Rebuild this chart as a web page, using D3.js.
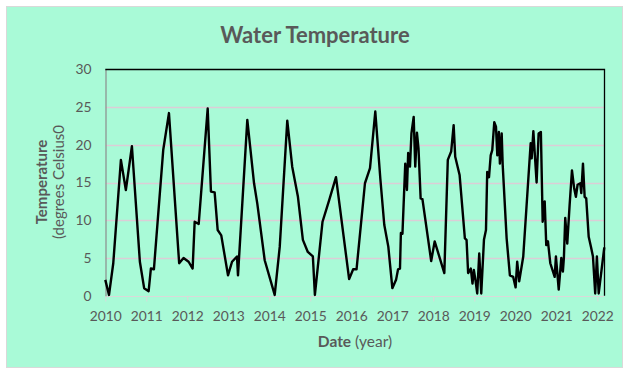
<!DOCTYPE html>
<html><head><meta charset="utf-8">
<script src="https://cdn.jsdelivr.net/npm/d3@7"></script>
<style>
html,body{margin:0;padding:0;background:#fff;}
svg{display:block;font-family:Lato,"Open Sans",sans-serif;}
</style></head>
<body>
<svg id="chart" width="630" height="381"></svg>
<script>
// ---- data ----
const dates = ["2010-01-01","2010-02-03","2010-03-13","2010-05-20","2010-07-03","2010-08-26","2010-11-05","2010-12-13",
"2011-01-22","2011-02-11","2011-03-10","2011-06-01","2011-07-22","2011-10-21","2011-11-29",
"2012-01-13","2012-02-18","2012-03-07","2012-04-12","2012-07-01","2012-07-30","2012-09-01","2012-09-28","2012-10-30","2012-12-29",
"2013-02-03","2013-03-19","2013-03-28","2013-06-19","2013-08-18","2013-09-16","2013-11-21",
"2014-02-18","2014-04-04","2014-06-10","2014-07-24","2014-09-13","2014-10-27","2014-12-10",
"2015-01-24","2015-02-11","2015-04-20","2015-06-19","2015-08-18","2015-12-13",
"2016-01-18","2016-02-17","2016-05-02","2016-06-16","2016-08-02","2016-09-16","2016-10-21","2016-11-26",
"2017-01-01","2017-02-03","2017-02-21","2017-03-10","2017-03-18","2017-04-01","2017-04-26","2017-05-11","2017-05-22","2017-06-07","2017-06-20","2017-07-10","2017-07-24","2017-08-08","2017-08-22","2017-09-10","2017-09-26","2017-12-13",
"2018-01-13","2018-04-09","2018-05-10","2018-06-09","2018-07-01","2018-07-15","2018-08-23","2018-10-09","2018-10-24","2018-11-07","2018-12-01","2018-12-16","2018-12-28",
"2019-01-13","2019-01-27","2019-02-14","2019-03-04","2019-03-28","2019-04-15","2019-04-26","2019-05-12","2019-05-27","2019-06-10","2019-06-28","2019-07-13","2019-07-25","2019-08-08","2019-08-17","2019-09-02","2019-09-11","2019-10-16","2019-11-14","2019-12-13",
"2020-01-04","2020-01-18","2020-02-05","2020-03-12","2020-05-17","2020-05-26","2020-06-10","2020-07-09","2020-07-27","2020-08-16","2020-09-01","2020-09-19","2020-10-03","2020-10-18","2020-11-08","2020-12-17","2020-12-28",
"2021-01-22","2021-02-14","2021-02-28","2021-03-09","2021-03-21","2021-04-08","2021-04-29","2021-05-20","2021-06-09","2021-06-24","2021-07-09","2021-08-02","2021-08-11","2021-08-26","2021-09-10","2021-09-24","2021-10-16","2021-11-05","2021-11-23","2021-12-13","2021-12-28",
"2022-01-13","2022-03-04"];
const temps = [2.1,0.1,4.3,18.0,14.0,19.8,4.5,1.0,
0.6,3.6,3.5,19.3,24.2,4.3,5.0,
4.5,3.6,9.8,9.5,24.8,13.8,13.7,8.7,8.0,2.7,
4.5,5.2,2.7,23.3,14.9,12.2,4.7,
0.1,6.5,23.2,17.1,13.1,7.4,5.8,
5.2,0.1,9.8,12.7,15.7,2.2,
3.5,3.5,14.9,16.9,24.4,15.5,9.4,6.5,
1.0,2.1,3.5,3.6,8.3,8.2,17.5,14.0,18.9,17.1,21.5,23.7,17.1,21.6,19.5,12.9,12.8,4.6,
7.2,3.0,18.0,19.1,22.6,18.4,16.0,7.6,7.4,3.0,3.6,1.6,3.4,
1.9,0.3,5.6,0.3,7.4,8.7,16.4,15.7,18.6,19.3,23.0,22.4,18.6,21.7,17.5,21.5,17.3,7.6,2.7,2.5,
1.1,4.5,1.9,5.2,20.2,18.2,21.8,15.0,21.5,21.7,9.8,12.5,6.7,7.2,4.3,2.5,5.2,
0.8,5.0,3.2,5.0,10.3,6.9,12.0,16.6,14.2,13.1,14.7,14.9,13.6,17.5,13.1,12.9,7.8,6.5,5.2,0.3,5.2,
0.3,6.4];
const yTicks = [0,5,10,15,20,25,30];
const xTickYears = [2010,2011,2012,2013,2014,2015,2016,2017,2018,2019,2020,2021,2022];
const titleText = "Water Temperature";
const yTitleBold = "Temperature";
const yTitleRest = "(degrees Celsius0";
const xTitleBold = "Date";
const xTitleRest = " (year)";

// ---- layout ----
const svg = d3.select("#chart");
const plot = {left:105.3, right:604.3, top:69.3, bottom:295.7};
const parse = d3.utcParse("%Y-%m-%d");
const data = dates.map((d,i)=>({date:parse(d), v:temps[i]}));
const FONT = "Lato, 'Open Sans', sans-serif";

svg.append("rect").attr("x",6.5).attr("y",6.5).attr("width",616).attr("height",361)
  .attr("fill","#a9fad7").attr("stroke","#d9d9d9").attr("stroke-width",1);

const x = d3.scaleUtc().domain([data[0].date, data[data.length-1].date]).range([plot.left, plot.right]);
const y = d3.scaleLinear().domain([0,30]).range([plot.bottom, plot.top]);

// gridlines
svg.append("g").selectAll("line").data(yTicks.filter(t=>t>0 && t<30)).join("line")
  .attr("x1",plot.left).attr("x2",plot.right)
  .attr("y1",d=>Math.round(y(d))+0.5).attr("y2",d=>Math.round(y(d))+0.5)
  .attr("stroke","#dccdd6").attr("stroke-width",1.4);

// x axis
const xTickDates = xTickYears.map(yr=>new Date(Date.UTC(yr,0,1)));
const xAxis = d3.axisBottom(x).tickValues(xTickDates).tickFormat(d3.utcFormat("%Y")).tickSize(5).tickPadding(10);
const gx = svg.append("g").attr("transform",`translate(0,${Math.round(plot.bottom)+0.5})`).call(xAxis);
gx.select(".domain").attr("stroke","#d9d9d9").attr("stroke-width",1.2).attr("d",`M${plot.left},0H${plot.right}`);
gx.selectAll(".tick line").attr("stroke","#d9d9d9");
gx.selectAll(".tick text").attr("fill","#595959").style("font-size","13.8px").style("font-family",FONT).attr("dy","0.71em");

// y axis
const yAxis = d3.axisLeft(y).tickValues(yTicks).tickSize(0).tickPadding(14);
const gy = svg.append("g").attr("transform",`translate(${Math.round(plot.left)+0.5},0)`).call(yAxis);
gy.select(".domain").attr("stroke","#8c8c8c").attr("stroke-width",1.2);
gy.selectAll(".tick text").attr("fill","#595959").style("font-size","13.8px").style("font-family",FONT);

// top & right border
svg.append("path").attr("d",`M${plot.left},${Math.round(plot.top)+0.5}H${Math.round(plot.right)+0.5}V${plot.bottom}`)
  .attr("fill","none").attr("stroke","#000").attr("stroke-width",1.3);

// line
const line = d3.line().x(d=>x(d.date)).y(d=>y(d.v));
svg.append("path").datum(data).attr("d",line).attr("fill","none")
  .attr("stroke","#000").attr("stroke-width",2.4).attr("stroke-linejoin","round");

// title
svg.append("text").attr("x",315).attr("y",43).attr("text-anchor","middle")
  .attr("fill","#595959").style("font-size","22px").style("font-weight","bold").text(titleText);

// y title
const yt = svg.append("text").attr("transform","translate(47,182) rotate(-90)").attr("text-anchor","middle")
  .attr("fill","#595959").style("font-size","15px");
yt.append("tspan").attr("x",0).attr("dy",0).style("font-weight","bold").text(yTitleBold);
yt.append("tspan").attr("x",0).attr("dy","1.15em").text(yTitleRest);

// x title
const xt = svg.append("text").attr("x",355).attr("y",347).attr("text-anchor","middle")
  .attr("fill","#595959").style("font-size","15.5px");
xt.append("tspan").style("font-weight","bold").text(xTitleBold);
xt.append("tspan").text(xTitleRest);
</script>
</body></html>
